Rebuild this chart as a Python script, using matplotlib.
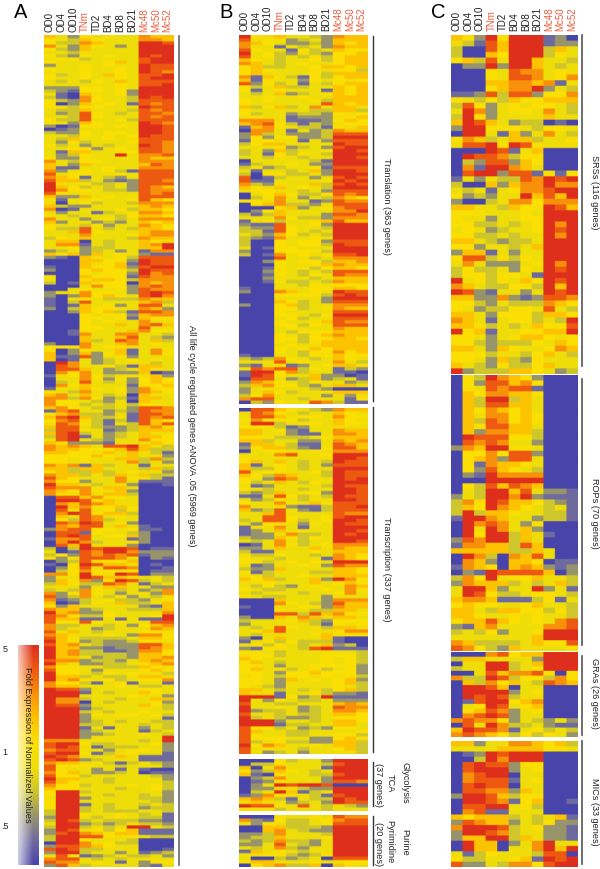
"""Life cycle expression heatmaps, panels A, B and C."""
import numpy as np
import matplotlib
matplotlib.use("Agg")
import matplotlib.pyplot as plt
from matplotlib.colors import LinearSegmentedColormap

plt.rcParams["font.family"] = ["Liberation Sans", "DejaVu Sans"]

STAGES = ["OD0", "OD4", "OD10", "TNm", "TD2", "BD4", "BD8", "BD21", "Mc48", "Mc50", "Mc52"]
RED_STAGES = ["TNm", "Mc48", "Mc50", "Mc52"]
LEVEL_COLORS = ["#4844aa", "#6f6b9e", "#98946a", "#cfc62c", "#efde08",
                "#fbe004", "#fdc300", "#f9930a", "#ee5a10", "#de2f1c"]
SCALE_TICKS = ["5", "1", ".5"]

# one token per gene row, read by eye: colour level 0 (blue) to 9 (red) per stage
A_ALL = """
642_54_544_766 543_65_444_776 533_76_444_998 742_65_424_999 532_64_444_999 443_44_444_999 532_54_544_989 455_34_444_899 544_44_564_899 244_54_544_988
544_54_454_988 444_54_454_987 534_54_654_889 544_54_454_899 434_35_464_888 444_44_454_889 222_55_454_999 321_55_452_999 410_64_452_999 310_75_443_989
532_75_443_888 502_64_541_878 543_55_444_988 433_64_443_878 423_85_434_887 443_85_444_878 533_84_453_888 542_65_444_987 201_55_454_998 012_44_444_998
322_54_554_998 443_54_545_988 436_44_544_888 425_34_445_887 534_24_344_987 445_52_454_887 416_64_455_887 423_54_494_778 522_54_444_766 743_55_444_777
642_64_444_687 611_44_544_777 724_54_531_888 845_54_454_888 765_14_324_888 866_34_212_887 944_53_342_888 965_34_342_876 975_54_332_877 854_44_444_878
622_64_544_888 514_45_445_865 404_53_443_777 632_24_444_676 701_44_453_665 424_41_345_776 543_44_435_665 744_24_534_777 624_42_324_656 544_35_244_765
533_84_343_665 446_85_444_677 444_74_445_677 354_64_443_766 466_04_344_654 477_14_344_679 445_23_344_669 234_23_424_177 656_26_454_211 210_64_453_888
000_66_552_988 000_64_561_988 100_65_562_899 200_56_553_988 000_54_552_978 500_65_551_877 400_56_653_777 301_65_550_767 000_47_552_787 004_54_452_877
244_75_542_898 202_75_654_897 104_54_333_766 103_84_444_673 101_64_524_884 203_65_554_762 002_65_631_887 000_54_552_677 000_55_451_655 000_54_544_744
000_54_464_786 000_55_444_844 001_54_446_755 001_74_477_443 000_64_468_432 000_63_487_463 200_74_467_454 555_74_554_444 502_54_461_475 602_62_561_475
611_82_452_444 601_42_345_454 097_42_344_434 087_44_531_664 088_64_234_654 075_74_222_601 145_75_344_462 044_75_252_565 034_84_342_565 075_64_441_556
144_65_452_755 543_74_452_765 674_64_340_644 773_75_231_664 755_43_240_644 755_34_343_554 675_43_342_887 178_44_232_877 567_33_241_887 689_63_341_878
578_43_131_865 487_53_143_868 688_43_223_674 388_54_123_666 689_34_234_644 389_14_234_665 489_43_244_755 652_22_144_465 767_64_889_643 766_55_568_633
665_54_646_431 555_56_546_442 554_54_466_373 554_54_447_342 767_16_344_144 663_66_444_363 563_36_345_442 766_34_364_633 865_44_475_431 755_24_474_111
966_43_442_001 877_75_664_000 765_75_462_000 754_74_663_000 088_67_554_000 099_85_644_000 076_87_644_000 096_75_565_000 084_84_535_000 079_85_663_000
064_87_454_000 053_87_344_000 087_98_452_000 076_88_464_100 278_85_545_110 088_15_443_200 089_84_556_200 177_84_441_200 079_73_445_200 086_94_442_000
303_98_998_011 401_87_997_222 352_87_878_122 525_88_874_021 023_85_556_000 105_98_664_010 025_84_887_001 035_75_544_011 775_95_498_022 244_98_664_443
265_72_598_343 365_33_874_134 444_24_664_422 343_75_434_237 725_75_424_427 823_74_352_434 712_34_533_245 601_35_463_346 526_44_444_216 766_23_443_336
967_22_544_447 875_33_544_459 866_11_414_119 855_85_454_488 733_44_342_567 734_42_344_476 846_43_444_554 764_44_542_775 865_33_334_665 965_23_223_554
867_43_222_886 966_22_122_876 967_33_112_775 967_33_332_665 966_42_332_667 877_23_324_676 964_22_334_567 755_45_333_654 855_42_444_565 955_43_545_443
966_34_334_664 967_54_534_557 755_31_451_441 766_44_454_334 988_24_444_554 999_14_344_654 999_44_445_442 977_34_434_466 977_04_344_452 988_24_444_653
999_13_444_443 999_34_344_544 999_25_455_453 999_24_444_441 999_23_434_433 999_33_444_343 999_14_144_243 999_23_444_134 999_22_344_543 999_24_444_449
777_44_444_349 899_53_344_452 898_41_333_442 788_44_245_542 899_51_345_441 987_44_464_111 898_23_444_111 766_45_313_432 855_54_434_442 854_42_414_100
756_42_234_011 855_34_444_432 966_44_344_442 865_44_344_443 755_34_445_453 655_44_434_453 599_34_444_442 599_44_344_342 499_24_444_332 599_44_444_432
599_14_344_343 599_34_344_233 399_34_333_443 399_54_454_341 299_43_454_331 398_34_333_221 499_23_234_332 399_34_349_943 298_45_356_111 289_76_566_111
399_88_545_433 399_54_443_000 099_74_533_000 288_76_544_000 898_33_444_001 299_34_424_123 484_12_343_342 788_43_434_444 877_45_414_255 286_34_444_214
"""

B_TRANSLATION = """
954_64_432_766 845_52_342_666 765_42_232_656 744_14_342_766 854_41_534_655 945_32_432_556 845_34_353_566 654_34_453_566 764_34_544_566 563_34_456_656
565_44_454_553 564_44_453_666 716_53_153_566 615_44_254_545 825_34_143_566 534_63_344_656 514_54_441_656 434_62_345_656 445_44_544_666 545_44_453_666
544_44_448_656 635_63_474_664 544_44_433_663 534_42_332_545 454_41_222_456 777_41_112_565 678_53_132_455 167_54_331_546 077_41_423_766 273_42_223_888
252_55_223_999 155_44_142_888 356_64_444_988 444_52_342_899 342_63_445_998 341_53_543_999 443_54_344_998 044_44_431_999 134_45_422_999 352_34_451_888
414_43_462_998 305_53_342_999 801_34_424_898 811_44_445_989 732_54_463_898 654_64_543_999 455_44_342_888 045_65_335_878 035_74_243_765 554_74_412_877
056_73_324_888 000_56_245_788 025_64_444_779 313_64_442_887 444_75_332_777 145_34_456_866 211_84_452_999 322_85_443_999 331_85_434_999 432_65_343_999
321_74_454_999 300_54_552_888 300_54_553_988 401_55_444_999 200_55_553_999 301_74_545_889 000_84_434_777 002_54_553_667 000_54_456_766 001_54_535_665
002_54_343_888 001_54_354_877 002_44_434_666 001_53_343_766 000_44_354_555 100_44_455_665 200_76_454_988 000_55_553_898 000_44_442_999 000_65_342_888
200_56_344_777 000_55_345_766 000_54_444_888 000_55_435_999 000_45_344_888 000_54_456_877 000_55_354_888 000_45_444_766 000_43_555_666 000_54_356_766
000_55_355_665 000_54_356_666 000_45_446_666 000_54_565_666 000_54_355_756 100_44_355_655 323_75_434_654 444_84_544_743 214_51_245_665 487_88_354_132
199_57_344_110 198_54_462_201 088_42_362_341 276_54_354_423 367_55_324_664 244_44_432_000 246_53_445_666 357_44_442_424 788_44_344_415 032_54_487_311
"""

B_TRANSCRIPTION = """
088_65_432_766 487_54_344_654 488_64_554_755 575_55_344_654 499_34_554_655 555_31_244_444 664_52_144_766 664_42_114_776 555_33_345_666 663_44_224_767
166_43_114_876 256_63_215_886 045_54_454_777 444_78_445_999 544_44_444_998 564_64_343_988 614_54_342_888 633_54_344_999 845_54_453_988 653_76_443_988
542_87_444_989 534_64_354_999 412_44_443_988 543_44_344_998 323_64_552_998 114_85_343_988 423_54_344_998 544_75_465_888 744_42_113_889 623_84_213_888
446_84_444_877 448_85_445_899 348_85_345_998 425_54_254_988 144_74_144_999 124_64_544_998 122_47_334_989 322_65_354_999 434_74_344_998 014_75_345_777
224_64_464_766 311_44_454_666 433_54_434_765 544_34_441_765 553_45_454_999 412_44_542_877 322_64_444_665 513_44_433_665 453_44_544_666 656_34_462_975
445_44_464_565 435_32_454_476 543_34_445_475 434_54_344_574 543_34_442_444 000_64_442_777 000_75_432_866 100_44_552_766 000_54_433_664 000_88_386_755
200_64_764_664 344_45_632_555 244_44_431_545 434_85_453_664 456_84_444_577 434_44_456_555 204_64_446_100 145_35_333_100 453_54_346_230 215_54_389_111
554_34_444_443 555_34_445_553 654_44_445_453 564_34_445_453 554_24_455_552 564_53_453_452 554_25_565_552 454_35_545_453 554_26_454_562 554_24_444_563
543_24_444_543 664_34_343_563 644_14_453_221 999_15_239_111 942_54_334_222 844_33_444_676 944_54_234_877 923_34_234_776 844_34_334_665 934_32_234_555
999_24_434_665 999_13_344_664 855_34_232_554 864_43_344_445 854_43_344_553 855_54_422_565 834_53_322_663 957_64_454_663 845_44_344_563 842_34_244_443
"""

B_GLYCOLYSIS_TCA = """
000_53_442_999 033_54_443_899 604_74_441_999 523_65_434_999 610_54_433_899
023_74_442_999 012_54_442_887 024_98_998_000 022_44_322_999 034_96_134_999
127_54_431_899 676_31_433_989 464_42_342_988 988_54_843_432 555_34_443_444
"""

B_PURINE_PYRIMIDINE = """
000_54_454_877 721_53_345_788 425_43_345_888 006_63_332_999 006_74_322_999
223_74_443_999 233_64_445_999 323_73_324_999 224_84_324_999 434_73_244_999
164_54_344_999 445_53_235_999 400_32_340_888 566_44_454_455 056_73_360_654
"""

C_SRS = """
652_95_999_120 431_86_999_122 300_86_999_364 300_65_999_354 563_84_996_443 022_92_996_434
000_54_877_454 000_54_887_457 000_66_776_714 000_56_779_243 112_83_882_557 543_53_655_666
385_24_545_543 497_24_554_743 395_24_444_644 698_64_233_010 299_55_543_554 099_41_624_743
576_34_663_445 488_95_985_444 000_98_146_000 098_87_355_000 032_88_265_000 071_99_764_000
089_92_881_515 142_43_387_989 300_62_677_977 434_14_577_899 523_24_496_869 200_34_775_777
664_43_655_986 555_44_454_999 544_24_455_999 553_34_345_979 454_23_445_989 553_34_344_979
664_32_334_999 552_44_346_999 266_14_244_999 588_35_354_999 474_22_245_979 353_34_254_989
355_35_541_999 945_35_465_989 764_33_553_969 982_14_424_989 662_27_212_887 553_24_333_765
542_33_554_843 664_25_553_665 764_14_553_439 665_34_346_558 956_14_455_669 554_24_566_545
553_23_335_465 664_26_544_576 555_34_435_643 554_26_325_444 643_25_335_644 923_33_665_423
"""

C_ROP = """
053_97_652_000 052_88_675_000 054_87_881_000 065_77_665_000 063_99_364_000 063_88_664_000 065_76_564_000 064_77_565_000 063_87_565_000 065_88_664_000
062_77_663_000 098_88_553_000 087_87_442_000 276_99_554_000 055_75_882_000 056_72_884_000 051_76_654_000 052_86_543_000 021_97_777_000 000_99_999_000
053_86_876_000 043_99_684_221 243_99_792_111 375_98_665_321 365_97_654_341 393_66_544_331 199_76_442_331 097_87_425_000 094_97_462_000 095_99_364_100
287_99_364_000 177_66_386_000 666_66_336_400 097_30_768_400 076_20_665_011 176_50_676_212 021_98_888_602 375_94_556_443 276_66_343_463 499_62_449_241
498_53_345_543 677_61_113_514 565_54_456_443 664_36_655_353 665_44_545_443 566_86_545_478 216_74_444_778 343_52_445_999 444_44_446_999 763_33_346_558
875_32_644_445
"""

C_GRA = """
000_78_566_999 366_44_442_999 044_99_346_999 344_99_345_999 004_86_778_505 733_98_355_375
063_75_643_876 099_86_044_000 099_99_245_000 098_98_344_000 018_99_567_000 045_98_456_000
056_87_245_000 078_98_244_000 787_75_243_242 084_97_334_211 698_87_145_343 787_65_353_542
"""

C_MIC = """
662_44_776_563 444_46_666_554 012_98_999_000 003_97_999_000 089_88_255_000 089_99_245_000
078_99_044_000 078_88_145_000 089_88_044_000 088_77_264_000 299_86_355_000 099_87_156_001
088_99_453_000 078_11_444_000 656_66_343_461 287_66_243_522 799_98_345_221 299_87_344_221
266_99_364_221 096_60_247_944 096_60_447_969 413_54_443_880 533_44_561_989 822_43_775_899
"""

W, H = 600, 870
level_cmap = LinearSegmentedColormap.from_list("levels", LEVEL_COLORS)


def parse_rows(text):
    rows = text.replace("_", "").split()
    return np.array([[int(c) for c in row] for row in rows])


def draw_block(ax, text, left, right, top, bottom, soften=2):
    # repeat cells so the bilinear smoothing only softens the edges, as in the scan
    grid = np.repeat(np.repeat(parse_rows(text), soften, axis=0), 16, axis=1)
    ax.imshow(grid, cmap=level_cmap, vmin=0, vmax=9, aspect="auto", interpolation="bilinear",
              interpolation_stage="rgba", extent=(left, right, bottom, top))


def stage_labels(ax, left, right, base):
    step = (right - left) / len(STAGES)
    for i, stage in enumerate(STAGES):
        color = "#ef5b3c" if stage in RED_STAGES else "#222222"
        ax.text(left + (i + 0.5) * step, base, stage, rotation=90, ha="center",
                va="bottom", fontsize=7, color=color)


def side_text(ax, x, y, label, size=6.6):
    ax.text(x, y, label, rotation=-90, ha="center", va="center", fontsize=size, color="#222222")


fig = plt.figure(figsize=(W / 100, H / 100), dpi=100)
ax = fig.add_axes([0, 0, 1, 1])

# panel A
draw_block(ax, A_ALL, 44, 173.5, 36, 868)
stage_labels(ax, 44, 173.5, 32)
ax.plot([178.5, 178.5], [37, 866], color="#666666", lw=1.2)
side_text(ax, 191, 436, "All life cycle regulated genes ANOVA .05 (5969 genes)")
ax.text(14, 18, "A", fontsize=14.5, color="black", va="baseline")

# panel B
draw_block(ax, B_TRANSLATION, 238.5, 367.5, 36, 405)
draw_block(ax, B_TRANSCRIPTION, 238.5, 367.5, 409, 755)
draw_block(ax, B_GLYCOLYSIS_TCA, 238.5, 367.5, 760, 812)
draw_block(ax, B_PURINE_PYRIMIDINE, 238.5, 367.5, 816, 868)
stage_labels(ax, 238.5, 367.5, 31)
for y0, y1 in [(37, 402), (408, 753), (763, 807), (817, 866)]:
    ax.plot([372.5, 372.5], [y0, y1], color="#333333", lw=1)
side_text(ax, 386, 206, "Translation (363 genes)")
side_text(ax, 386, 569, "Transcription (337 genes)")
side_text(ax, 405, 783, "Glycolysis")
side_text(ax, 390, 783, "TCA")
side_text(ax, 379, 785, "(37 genes)")
side_text(ax, 405, 842, "Purine")
side_text(ax, 390, 842, "Pyrimidine")
side_text(ax, 379, 844, "(20 genes)")
ax.text(219, 18, "B", fontsize=14.5, color="black", va="baseline")

# panel C
draw_block(ax, C_SRS, 451, 578, 36, 375, soften=4)
draw_block(ax, C_ROP, 451, 578, 376, 652, soften=4)
draw_block(ax, C_GRA, 451, 578, 653, 738, soften=4)
draw_block(ax, C_MIC, 451, 578, 742, 868, soften=4)
stage_labels(ax, 451, 578, 31)
for y0, y1 in [(36, 367), (380, 646), (657, 736), (742, 865)]:
    ax.plot([582, 582], [y0, y1], color="#555555", lw=1.2)
side_text(ax, 595, 192, "SRSs (116 genes)")
side_text(ax, 595, 513, "ROPs (70 genes)")
side_text(ax, 595, 693, "GRAs (26 genes)")
side_text(ax, 595, 812, "MICs (33 genes)")
ax.text(431, 18, "C", fontsize=14.5, color="black", va="baseline")

# colour scale, fading to white towards its left edge
ramp = level_cmap(np.linspace(1, 0, 220))[:, np.newaxis, :]
ramp = np.repeat(ramp, 21, axis=1)
ramp[:, :, 3] = np.clip(np.linspace(0.3, 1.25, 21), 0, 1)
ax.imshow(ramp, aspect="auto", interpolation="bilinear", extent=(18, 39, 866, 646))
side_text(ax, 27, 745, "Fold Expression of Normalized Values", size=6.6)
for y, label in zip([650, 753, 827], SCALE_TICKS):
    ax.text(5, y, label, ha="center", va="center", fontsize=6.5, color="#222222")

ax.set_xlim(0, W)
ax.set_ylim(H, 0)
ax.axis("off")
fig.savefig("out.png", dpi=100)
